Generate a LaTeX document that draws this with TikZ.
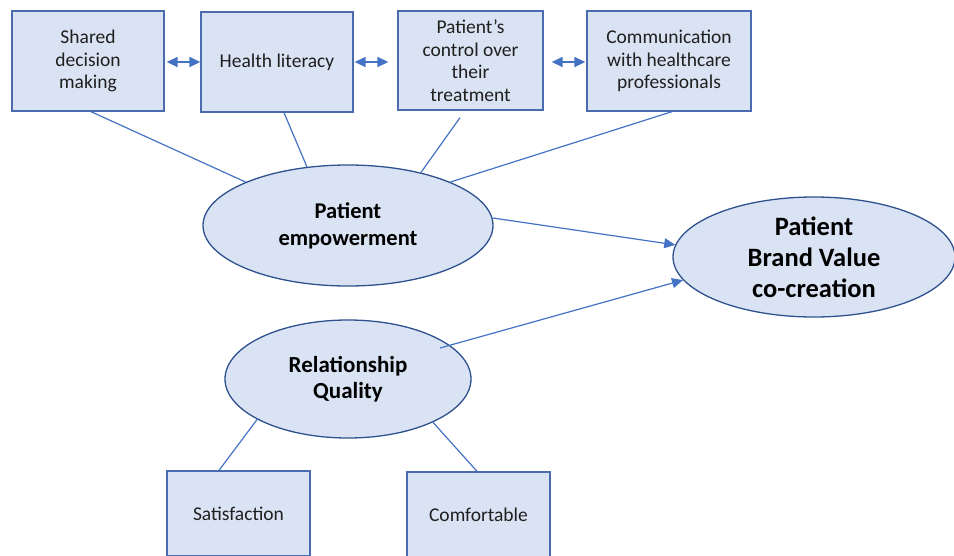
\documentclass[tikz,border=0pt]{standalone}
\usepackage{fontspec}
\setmainfont{Carlito}
\usetikzlibrary{arrows.meta,calc,shapes.geometric}

\definecolor{boxfill}{HTML}{DAE3F3}
\definecolor{boxline}{HTML}{4A6CAE}
\definecolor{ovalline}{HTML}{2F528F}
\definecolor{linkblue}{HTML}{4472C4}
\definecolor{boxtext}{HTML}{1F1F1F}

\begin{document}
\begin{tikzpicture}[x=1pt,y=-1pt,
  itembox/.style={rectangle, draw=boxline, fill=boxfill, line width=1.3pt,
    inner sep=2pt, align=center, text=boxtext,
    font=\fontsize{19.5}{22.5}\selectfont},
  construct/.style={ellipse, draw=ovalline, fill=boxfill, line width=1.3pt,
    inner sep=0pt, align=center, text=black},
  link/.style={draw=linkblue, line width=1.2pt},
  effect/.style={link, -{Triangle[length=11pt,width=10pt]}},
  mutual/.style={link, line width=1.4pt,
    {Triangle[length=11pt,width=10pt]}-{Triangle[length=11pt,width=10pt]}}]

\clip (0,0) rectangle (954,555);

% dimensions of patient empowerment
\node[itembox, minimum width=152pt, minimum height=100pt] (sdm) at (88,61)
  {Shared\\decision\\making};
\node[itembox, minimum width=152pt, minimum height=100pt] (hl) at (277,62)
  {Health literacy};
\node[itembox, minimum width=145pt, minimum height=99pt] (pc) at (470.5,60.5)
  {Patient’s\\control over\\their\\treatment};
\node[itembox, minimum width=164pt, minimum height=100pt] (cw) at (669,61)
  {Communication\\with healthcare\\professionals};

% latent constructs
\node[construct, minimum width=290pt, minimum height=121pt,
  font=\bfseries\fontsize{22.5}{27}\selectfont] (pe) at (348,225.5)
  {Patient\\empowerment};
\node[construct, minimum width=282pt, minimum height=120pt,
  font=\bfseries\fontsize{26.5}{31}\selectfont] (pbv) at (814,257)
  {Patient\\Brand Value\\co-creation};
\node[construct, minimum width=246pt, minimum height=118pt,
  font=\bfseries\fontsize{23}{26}\selectfont] (rq) at (348,379)
  {Relationship\\Quality};

% dimensions of relationship quality
\node[itembox, minimum width=143pt, minimum height=85pt] (sat) at (238.5,513.5)
  {Satisfaction};
\node[itembox, minimum width=143pt, minimum height=85pt] (com) at (478.5,514.5)
  {Comfortable};

% links between the dimensions
\draw[mutual, shorten <=2pt] (sdm.east |- hl.west) -- (hl.west);
\draw[mutual, shorten <=1pt, shorten >=9pt] (hl.east) -- (hl.east -| pc.west);
\draw[mutual, shorten <=8pt, shorten >=1pt] (pc.east |- hl.east) -- (cw.west |- hl.east);

% dimensions to their constructs
\draw[link] ($(sdm.south)+(3,0)$) -- (pe.157);
\draw[link] ($(hl.south)+(7,0)$) -- (pe.125);
\draw[link] ($(pc.south)+(-10.5,7)$) -- (pe.36);
\draw[link] ($(cw.south)+(3,0)$) -- (pe.23.4);
\draw[link] (rq.204) -- ($(sat.north)+(-19.5,0)$);
\draw[link] (rq.333) -- ($(com.north)+(-1.5,0)$);

% structural paths
\draw[effect] (pe.3) -- (pbv.175);
\draw[effect] ($(rq.center)+(92,-31)$) -- (pbv.190);

\end{tikzpicture}
\end{document}
